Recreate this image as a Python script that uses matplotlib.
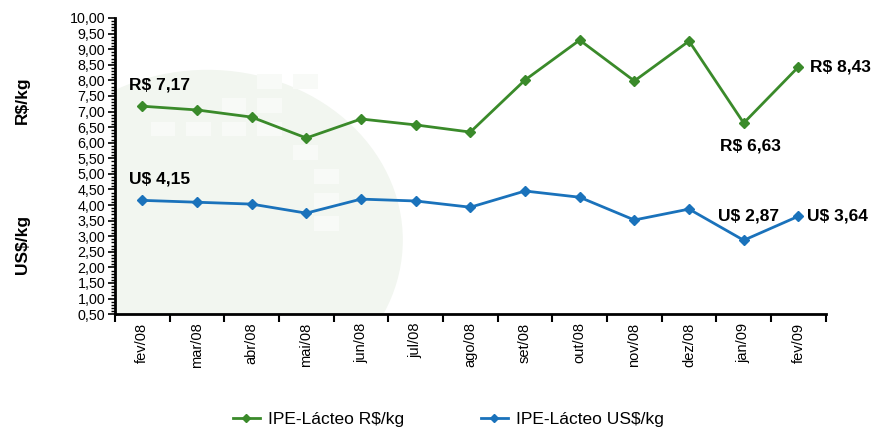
import numpy as np
import matplotlib.pyplot as plt
from matplotlib.ticker import MultipleLocator, FuncFormatter
from matplotlib.patches import Ellipse, Rectangle

# dados
meses = ['fev/08', 'mar/08', 'abr/08', 'mai/08', 'jun/08', 'jul/08', 'ago/08',
         'set/08', 'out/08', 'nov/08', 'dez/08', 'jan/09', 'fev/09']
real = [7.17, 7.05, 6.82, 6.15, 6.76, 6.57, 6.34, 8.01, 9.29, 7.98, 9.26, 6.63, 8.43]
dolar = [4.15, 4.09, 4.03, 3.74, 4.19, 4.13, 3.93, 4.45, 4.25, 3.52, 3.87, 2.87, 3.64]

verde = '#3a8a2a'
azul = '#1a72bb'

plt.rcParams['font.family'] = ['Liberation Sans', 'DejaVu Sans']

fig = plt.figure(figsize=(8.71, 4.28), dpi=100)
ax = fig.add_axes([0.132, 0.266, 0.816, 0.692])

x = np.arange(len(meses))

# marca d'agua (fundo)
ax.add_patch(Ellipse((0.13, 0.25), 0.55, 1.15, transform=ax.transAxes,
                     color='#f2f6f0', zorder=0, lw=0))
for (cx, cy) in [(0.05, 0.60), (0.10, 0.60), (0.15, 0.60), (0.20, 0.60),
                 (0.15, 0.68), (0.20, 0.68), (0.20, 0.76), (0.25, 0.76),
                 (0.25, 0.52), (0.28, 0.44), (0.28, 0.36), (0.28, 0.28)]:
    ax.add_patch(Rectangle((cx, cy), 0.035, 0.05, transform=ax.transAxes,
                           color='#f8faf7', zorder=0, lw=0))

ax.plot(x, real, color=verde, marker='D', markersize=5, lw=2, label='IPE-Lácteo R$/kg', zorder=3)
ax.plot(x, dolar, color=azul, marker='D', markersize=5, lw=2, label='IPE-Lácteo US$/kg', zorder=3)

ax.set_xlim(-0.5, len(meses) - 0.5)
ax.set_ylim(0.5, 10.0)

ax.yaxis.set_major_locator(MultipleLocator(0.5))
ax.yaxis.set_minor_locator(MultipleLocator(0.1))
ax.yaxis.set_major_formatter(FuncFormatter(lambda v, p: ('%.2f' % v).replace('.', ',')))
ax.tick_params(axis='y', which='major', direction='out', length=5, width=1.2, labelsize=10.3, pad=2)
ax.tick_params(axis='y', which='minor', direction='out', length=3, width=1)

ax.set_xticks(x)
ax.set_xticklabels(meses, rotation=90, fontsize=10.5)
ax.set_xticks(np.arange(-0.5, len(meses), 1), minor=True)
ax.tick_params(axis='x', which='major', length=0, pad=6)
ax.tick_params(axis='x', which='minor', direction='out', length=6, width=1.5)

for s in ['top', 'right']:
    ax.spines[s].set_visible(False)
ax.spines['left'].set_linewidth(2)
ax.spines['bottom'].set_linewidth(2)

# rotulos
fs = 12.5
ax.text(-0.25, real[0] + 0.45, 'R$ 7,17', fontsize=fs, fontweight='bold', ha='left', va='bottom')
ax.text(-0.25, dolar[0] + 0.45, 'U$ 4,15', fontsize=fs, fontweight='bold', ha='left', va='bottom')
ax.text(11.13, real[11] - 0.5, 'R$ 6,63', fontsize=fs, fontweight='bold', ha='center', va='top')
ax.text(10.53, dolar[11] + 0.55, 'U$ 2,87', fontsize=fs, fontweight='bold', ha='left', va='bottom')
ax.text(12.22, real[12], 'R$ 8,43', fontsize=fs, fontweight='bold', ha='left', va='center')
ax.text(12.15, dolar[12], 'U$ 3,64', fontsize=fs, fontweight='bold', ha='left', va='center')

fig.text(0.026, 0.765, 'R$/kg', rotation=90, fontsize=12.5, fontweight='bold', ha='center', va='center')
fig.text(0.026, 0.43, 'US$/kg', rotation=90, fontsize=12.5, fontweight='bold', ha='center', va='center')

fig.legend(loc='lower center', bbox_to_anchor=(0.515, -0.035), ncol=2, frameon=False,
           fontsize=12.5, handlelength=1.55, handletextpad=0.5, columnspacing=4.4, markerscale=0.8)

fig.savefig('out.png', dpi=100)
